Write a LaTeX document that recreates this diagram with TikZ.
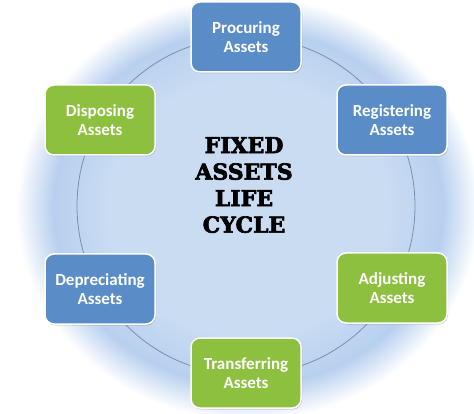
\documentclass[tikz,border=0pt]{standalone}
\usepackage{fontspec}
\usetikzlibrary{positioning,shadows}
\newfontfamily\boxfont{Carlito}
\newfontfamily\titlefont[BoldFeatures={FakeBold=3}]{DejaVu Serif}
\definecolor{cloudin}{HTML}{C9DCF2}
\definecolor{cloudmid}{HTML}{B8D0EF}
\definecolor{boxblue}{HTML}{5A8DC8}
\definecolor{boxgreen}{HTML}{8DC03F}
\definecolor{ringline}{HTML}{7890AC}
\pgfdeclareradialshading{cloudshade}{\pgfpointorigin}{color(0bp)=(cloudin); color(15bp)=(cloudin); color(21bp)=(cloudmid); color(25bp)=(white); color(50bp)=(white)}

\begin{document}
\begin{tikzpicture}[x=1pt, y=-1pt, line join=round,
  stage/.style={rectangle, rounded corners=9pt, draw=white, line width=1.5pt,
    minimum width=110pt, minimum height=70pt, align=center, text=white,
    font=\boxfont\bfseries\fontsize{17}{19}\selectfont,
    drop shadow={opacity=0.3, shadow xshift=1pt, shadow yshift=-1.5pt}},
  bluestage/.style={stage, fill=boxblue},
  greenstage/.style={stage, fill=boxgreen}]
\useasboundingbox (0,0) rectangle (474,414);
\shade[shading=cloudshade] (248,208) ellipse (232 and 212);
\coordinate (O) at (246,206);
\draw[ringline, line width=0.8pt] (O) circle (169);
\node[bluestage]  (procuring)    at (246,37)  {Procuring\\Assets};
\node[bluestage]  (registering)  at (392,120) {Registering\\Assets};
\node[greenstage] (adjusting)    at (392,288) {Adjusting\\Assets};
\node[greenstage] (transferring) at (246,373) {Transferring\\Assets};
\node[bluestage]  (depreciating) at (100,289) {Depreciating\\Assets};
\node[greenstage] (disposing)    at (100,120) {Disposing\\Assets};
\node[font=\titlefont\bfseries\fontsize{22}{26.5}\selectfont, align=center] (title) at (244,185) {FIXED\\ASSETS\\LIFE\\CYCLE};
\end{tikzpicture}
\end{document}
